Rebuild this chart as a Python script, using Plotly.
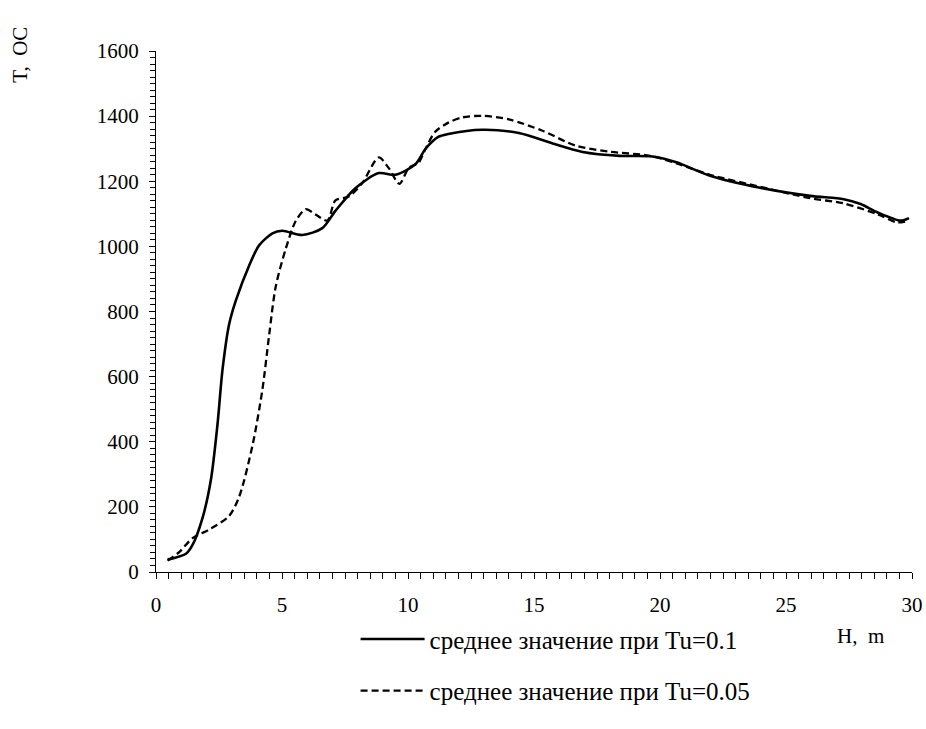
import plotly.graph_objects as go

# Solid series: Tu = 0.1
h_solid = [0.46, 1.19, 1.45, 1.85, 2.18, 2.44, 2.64, 2.9, 3.17, 3.69, 4.09, 4.62, 5.01,
           5.8, 6.6, 7.12, 7.9, 8.84, 9.5, 10.29, 10.69, 11.2, 11.6, 12.95, 14.4, 15.74,
           16.93, 18.4, 19.7, 20.65, 21.98, 23.97, 25.96, 27.29, 27.96, 28.62, 29.55, 29.88]
t_solid = [38, 56, 83, 167, 284, 453, 622, 760, 834, 940, 1003, 1040, 1048,
           1035, 1056, 1109, 1178, 1225, 1220, 1252, 1299, 1336, 1345, 1358, 1348, 1316,
           1290, 1278, 1276, 1258, 1217, 1180, 1155, 1145, 1130, 1105, 1079, 1087]

# Dashed series: Tu = 0.05
h_dash = [0.46, 0.92, 1.45, 2.1, 2.9, 3.3, 3.83, 4.22, 4.49, 4.75, 5.15, 5.54, 5.94,
          6.33, 6.8, 7.12, 7.65, 8.18, 8.84, 9.23, 9.66, 10.03, 10.42, 10.69, 11.08,
          11.6, 12.15, 12.95, 14.0, 15.34, 16.66, 18.0, 19.6, 20.65, 21.98, 23.97,
          25.96, 27.29, 28.62, 29.4, 29.88]
t_dash = [35, 61, 104, 130, 172, 231, 389, 559, 728, 876, 993, 1077, 1114,
          1098, 1079, 1141, 1153, 1194, 1273, 1241, 1192, 1241, 1257, 1299, 1352,
          1380, 1396, 1401, 1390, 1355, 1309, 1291, 1278, 1255, 1220, 1183,
          1148, 1132, 1099, 1074, 1079]

series_names = ["среднее значение при Tu=0.1", "среднее значение при Tu=0.05"]
x_ticks = [0, 5, 10, 15, 20, 25, 30]
y_ticks = [0, 200, 400, 600, 800, 1000, 1200, 1400, 1600]

FONT = "Liberation Serif"

fig = go.Figure()
fig.add_trace(go.Scatter(x=h_solid, y=t_solid, mode="lines", name=series_names[0],
                         line=dict(color="black", width=2.6, shape="spline", smoothing=0.8),
                         legendgroup="a"))
fig.add_trace(go.Scatter(x=h_dash, y=t_dash, mode="lines", name=series_names[1],
                         line=dict(color="black", width=2.3, dash="7px,4px", shape="spline", smoothing=0.8),
                         legendgroup="b"))

axis_common = dict(showline=True, linecolor="black", linewidth=1, ticks="outside",
                   ticklen=6, tickcolor="black", showgrid=False, zeroline=False,
                   automargin=False,
                   tickfont=dict(family=FONT, size=21, color="black"))

fig.update_xaxes(range=[0, 30], tickvals=x_ticks, ticklabelstandoff=8,
                 minor=dict(dtick=0.5, ticks="outside", ticklen=6, tickcolor="black"),
                 **axis_common)
fig.update_yaxes(range=[0, 1600], tickvals=y_ticks, ticklabelstandoff=6,
                 minor=dict(dtick=20, ticks="outside", ticklen=5, tickcolor="black"),
                 **axis_common)

fig.add_annotation(text="T,  OC", xref="paper", yref="paper", x=-0.18, y=1.05,
                   textangle=-90, showarrow=False, xanchor="center", yanchor="top",
                   font=dict(family=FONT, size=21, color="black"))
fig.add_annotation(text="H,  m", xref="paper", yref="paper", x=0.965, y=-0.122,
                   showarrow=False, xanchor="right", yanchor="middle",
                   font=dict(family=FONT, size=21, color="black"))

fig.update_layout(
    width=926, height=729,
    margin=dict(l=156, r=14, t=51, b=157),
    paper_bgcolor="white", plot_bgcolor="white",
    showlegend=True,
    legend=dict(x=0.264, y=-0.085, xanchor="left", yanchor="top",
                font=dict(family=FONT, size=25, color="black"),
                tracegroupgap=16, itemwidth=64, bgcolor="rgba(0,0,0,0)"),
    font=dict(family=FONT, color="black"),
)

fig.write_html("out.html", config={"displayModeBar": False},
               post_script="document.body.style.margin='0';document.body.style.overflow='hidden';")
